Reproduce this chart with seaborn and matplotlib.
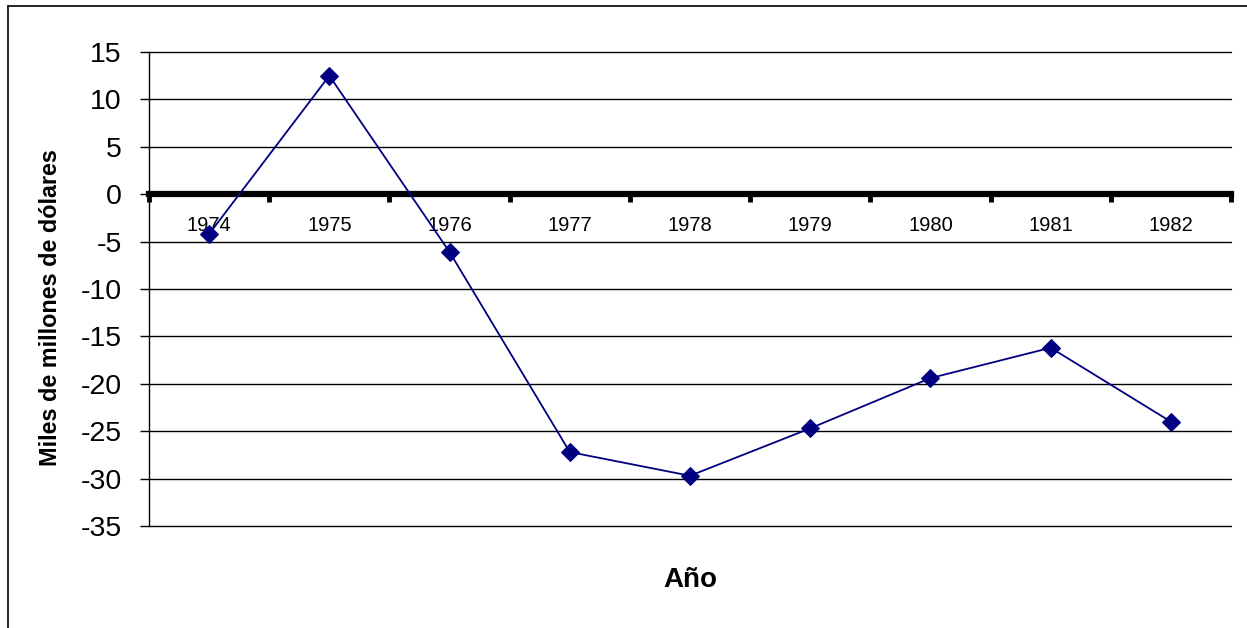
import matplotlib.pyplot as plt
import numpy as np
import pandas as pd
import seaborn as sns
from matplotlib.lines import Line2D

# Datos
years = ["1974", "1975", "1976", "1977", "1978", "1979", "1980", "1981", "1982"]
values = [-4.2, 12.5, -6.1, -27.2, -29.7, -24.7, -19.4, -16.2, -24.0]
y_ticks = [15, 10, 5, 0, -5, -10, -15, -20, -25, -30, -35]

df = pd.DataFrame({"pos": np.arange(len(years)), "valor": values})

sns.set_style("white")
plt.rcParams["font.family"] = ["Liberation Sans", "DejaVu Sans"]
plt.rcParams["text.color"] = "black"
plt.rcParams["axes.labelcolor"] = "black"

fig = plt.figure(figsize=(12.47, 6.28), dpi=100)
ax = fig.add_axes([149 / 1247, 1 - 526 / 628, 1082 / 1247, 474 / 628])

# líneas de cuadrícula horizontales
for t in y_ticks:
    ax.axhline(t, color="black", linewidth=1.0, zorder=1, clip_on=False)

sns.lineplot(
    data=df,
    x="pos",
    y="valor",
    color="#000080",
    linewidth=1.3,
    marker="D",
    markersize=9,
    markeredgecolor="#000080",
    ax=ax,
    zorder=4,
)

ax.set_xlim(-0.5, len(years) - 0.5)
ax.set_ylim(-35, 15)
ax.set_yticks(y_ticks)
ax.set_yticklabels([str(t) for t in y_ticks])

# eje X en el cero
ax.spines["bottom"].set_position(("data", 0))
ax.spines["bottom"].set_linewidth(4.5)
ax.spines["bottom"].set_color("black")
ax.spines["bottom"].set_zorder(3)
ax.spines["top"].set_visible(False)
ax.spines["right"].set_visible(False)
ax.spines["left"].set_linewidth(1.0)
ax.spines["left"].set_color("black")

ax.set_xticks(np.arange(len(years)))
ax.set_xticklabels(years)
ax.set_xticks(np.arange(len(years) + 1) - 0.5, minor=True)
ax.tick_params(axis="x", which="major", bottom=True, length=0, pad=16,
               labelsize=14.5, labelcolor="black")
ax.tick_params(axis="x", which="minor", bottom=True, direction="out",
               length=5.5, width=3.5, color="black")
ax.tick_params(axis="y", which="major", left=True, direction="out", length=6.5,
               width=1, labelsize=20.5, color="black", labelcolor="black", pad=13)

ax.set_xlabel("")
ax.set_ylabel("Miles de millones de dólares", fontsize=16.8, fontweight="bold")
ax.yaxis.set_label_coords((62 - 149) / 1082, 0.46)

fig.text(690 / 1247, 1 - 580 / 628, "Año", fontsize=20, fontweight="bold",
         ha="center", va="center")

# marco del gráfico
fig.add_artist(Line2D([8 / 1247, 8 / 1247], [0, 1 - 6 / 628], color="black", linewidth=1.2))
fig.add_artist(Line2D([8 / 1247, 1], [1 - 6 / 628, 1 - 6 / 628], color="black", linewidth=1.2))

fig.savefig("out.png", dpi=100)
